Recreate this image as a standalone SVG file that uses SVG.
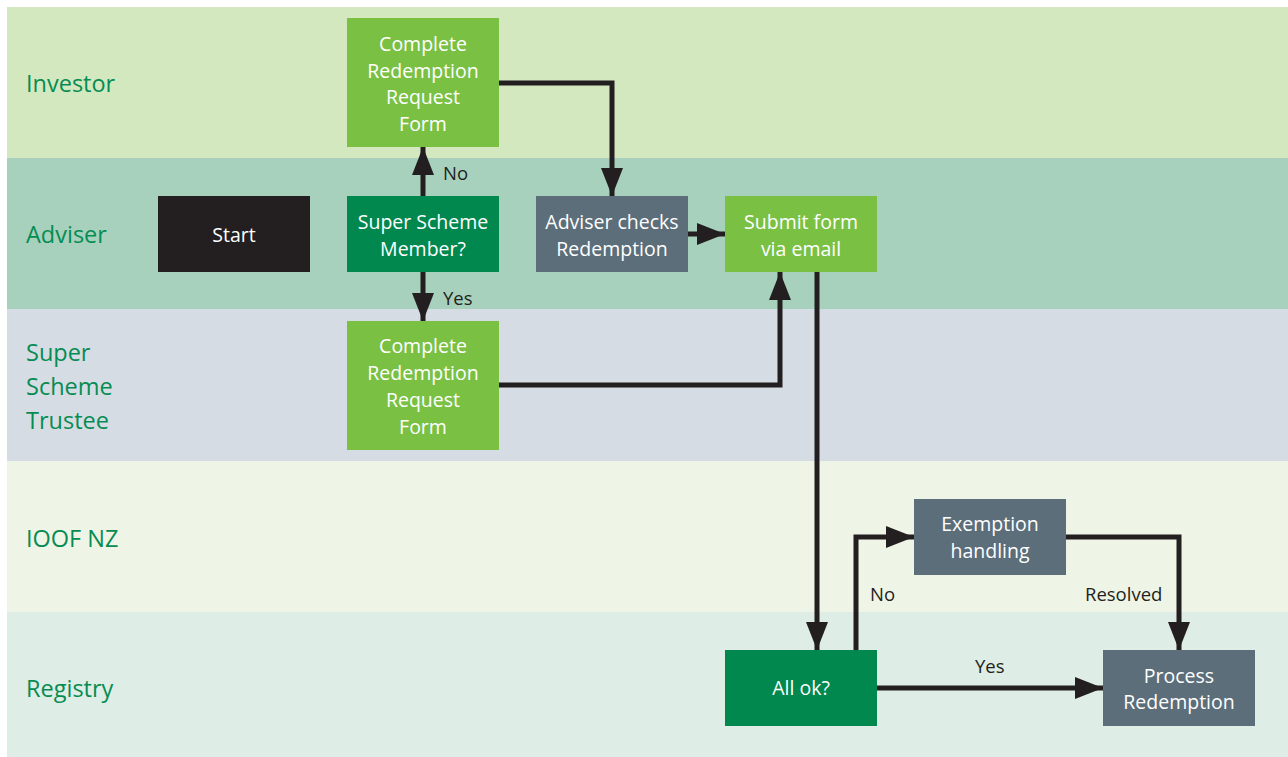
<svg xmlns="http://www.w3.org/2000/svg" width="1288" height="757" viewBox="0 0 1288 757">
<style>
.lane-label{font-family:"Open Sans","Noto Sans",sans-serif;font-size:23.5px;fill:#068c52}
.nt{font-family:"Open Sans","Noto Sans",sans-serif;font-size:19.5px;fill:#ffffff;text-anchor:middle}
.lbl{font-family:"Open Sans","Noto Sans",sans-serif;font-size:18.5px;fill:#231f20}
.conn{fill:none;stroke:#231f20;stroke-width:5;stroke-linejoin:miter}
.lg{fill:#7ac143}.dg{fill:#00884f}.sl{fill:#5b6e7a}.bk{fill:#231f20}
</style>
<defs>
<marker id="arr" markerUnits="userSpaceOnUse" markerWidth="30" markerHeight="22" viewBox="0 0 30 22" refX="28" refY="11" orient="auto">
<path d="M0,0 L28,11 L0,22 Z" fill="#231f20"/>
</marker>
</defs>
<rect width="1288" height="757" fill="#ffffff"/>
<g id="lanes">
<rect x="7" y="7" width="1281" height="151" fill="#d4e8c0"/>
<rect x="7" y="158" width="1281" height="151" fill="#a7d1bd"/>
<rect x="7" y="309" width="1281" height="152" fill="#d5dce3"/>
<rect x="7" y="461" width="1281" height="151" fill="#eff5e6"/>
<rect x="7" y="612" width="1281" height="145" fill="#deede5"/>
<text class="lane-label" x="26" y="92">Investor</text>
<text class="lane-label" x="26" y="243">Adviser</text>
<text class="lane-label" x="26" y="361">Super</text>
<text class="lane-label" x="26" y="395">Scheme</text>
<text class="lane-label" x="26" y="429">Trustee</text>
<text class="lane-label" x="26" y="547">IOOF NZ</text>
<text class="lane-label" x="26" y="697">Registry</text>
</g>
<g id="connectors">
<path class="conn" d="M499,83 H612 V196" marker-end="url(#arr)"/>
<path class="conn" d="M423,196 V147" marker-end="url(#arr)"/>
<path class="conn" d="M423,272 V321" marker-end="url(#arr)"/>
<path class="conn" d="M688,234 H725" marker-end="url(#arr)"/>
<path class="conn" d="M499,385 H780 V272" marker-end="url(#arr)"/>
<path class="conn" d="M817,272 V650" marker-end="url(#arr)"/>
<path class="conn" d="M856,650 V537 H914" marker-end="url(#arr)"/>
<path class="conn" d="M1066,537 H1179 V650" marker-end="url(#arr)"/>
<path class="conn" d="M877,688 H1103" marker-end="url(#arr)"/>
<text class="lbl" x="443" y="180">No</text>
<text class="lbl" x="443" y="305">Yes</text>
<text class="lbl" x="870" y="601">No</text>
<text class="lbl" x="1085" y="601">Resolved</text>
<text class="lbl" x="975" y="673">Yes</text>
</g>
<g id="investor-form">
<rect class="lg" x="347" y="18" width="152" height="129"/>
<text class="nt" x="423" y="51">Complete</text>
<text class="nt" x="423" y="78">Redemption</text>
<text class="nt" x="423" y="104">Request</text>
<text class="nt" x="423" y="131">Form</text>
</g>
<g id="start">
<rect class="bk" x="158" y="196" width="152" height="76"/>
<text class="nt" x="234" y="242">Start</text>
</g>
<g id="member">
<rect class="dg" x="347" y="196" width="152" height="76"/>
<text class="nt" x="423" y="229">Super Scheme</text>
<text class="nt" x="423" y="256">Member?</text>
</g>
<g id="adviser-checks">
<rect class="sl" x="536" y="196" width="152" height="76"/>
<text class="nt" x="612" y="229">Adviser checks</text>
<text class="nt" x="612" y="256">Redemption</text>
</g>
<g id="submit">
<rect class="lg" x="725" y="196" width="152" height="76"/>
<text class="nt" x="801" y="229">Submit form</text>
<text class="nt" x="801" y="256">via email</text>
</g>
<g id="trustee-form">
<rect class="lg" x="347" y="321" width="152" height="129"/>
<text class="nt" x="423" y="353">Complete</text>
<text class="nt" x="423" y="380">Redemption</text>
<text class="nt" x="423" y="407">Request</text>
<text class="nt" x="423" y="434">Form</text>
</g>
<g id="exemption">
<rect class="sl" x="914" y="499" width="152" height="76"/>
<text class="nt" x="990" y="531">Exemption</text>
<text class="nt" x="990" y="558">handling</text>
</g>
<g id="allok">
<rect class="dg" x="725" y="650" width="152" height="76"/>
<text class="nt" x="801" y="695">All ok?</text>
</g>
<g id="process">
<rect class="sl" x="1103" y="650" width="152" height="76"/>
<text class="nt" x="1179" y="683">Process</text>
<text class="nt" x="1179" y="709">Redemption</text>
</g>
</svg>
